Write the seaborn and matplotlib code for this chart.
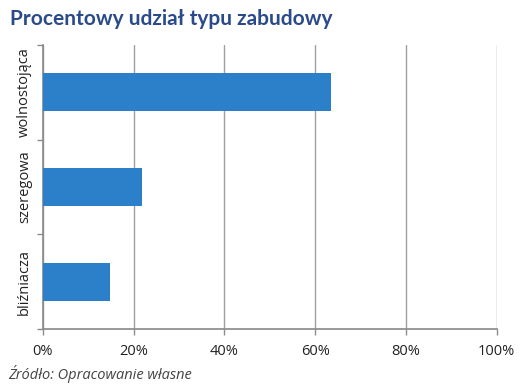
import matplotlib
matplotlib.use("Agg")
import matplotlib.pyplot as plt
import seaborn as sns
import pandas as pd
from matplotlib.ticker import FuncFormatter

# data
categories = ["wolnostojąca", "szeregowa", "bliźniacza"]
shares = [63.4, 21.8, 14.8]
x_ticks = [0, 20, 40, 60, 80, 100]

df = pd.DataFrame({"typ": categories, "udzial": shares})

sns.set_theme(style="white")
plt.rcParams["font.family"] = ["Open Sans", "DejaVu Sans"]

fig = plt.figure(figsize=(5.24, 3.88), dpi=100)
ax = fig.add_axes([0.082, 0.152, 0.866, 0.732])

sns.barplot(data=df, x="udzial", y="typ", orient="h", width=0.4,
            color="#2C7FC9", saturation=1, linewidth=0, ax=ax, zorder=3)

ax.set_xlim(0, 100)
ax.set_ylim(len(categories) - 0.5, -0.5)
ax.set_xticks(x_ticks)
ax.xaxis.set_major_formatter(FuncFormatter(lambda v, p: f"{v:.0f}%"))
ax.grid(axis="x", color="#a0a0a0", linewidth=1, zorder=0)
ax.set_axisbelow(True)

# category separators as minor ticks on the left axis
ax.set_yticks([i - 0.5 for i in range(len(categories) + 1)], minor=True)
ax.tick_params(axis="y", which="major", length=0, pad=8)
ax.tick_params(axis="y", which="minor", length=4, width=1, color="#8c8c8c", direction="out", left=True)
ax.tick_params(axis="x", which="major", length=4, width=1, color="#8c8c8c", direction="out", bottom=True, pad=7)
for lab in ax.get_yticklabels():
    lab.set_rotation(90)
    lab.set_va("center")
    lab.set_fontsize(10.5)
    lab.set_color("#222222")
for lab in ax.get_xticklabels():
    lab.set_fontsize(10.5)
    lab.set_color("#222222")

sns.despine(ax=ax, top=True, right=True)
ax.spines["left"].set_color("#8c8c8c")
ax.spines["bottom"].set_color("#8c8c8c")
ax.set_xlabel("")
ax.set_ylabel("")

fig.text(0.02, 0.935, "Procentowy udział typu zabudowy", fontsize=15, fontweight="bold",
         color="#2B4A8B", ha="left", va="baseline", family=["Lato", "DejaVu Sans"])
fig.text(0.015, 0.022, "Źródło: Opracowanie własne", fontsize=10.5, style="italic",
         color="#444444", ha="left", va="baseline")

fig.savefig("out.png", dpi=100)
